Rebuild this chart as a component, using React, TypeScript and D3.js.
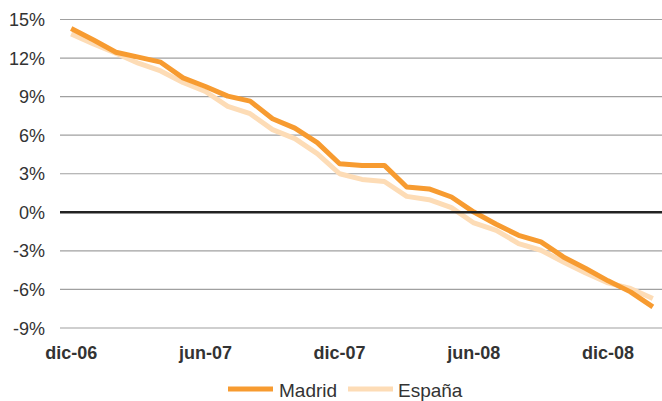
import React from "react";
import * as d3 from "d3";

const months = [
  "dic-06","ene-07","feb-07","mar-07","abr-07","may-07","jun-07","jul-07","ago-07","sep-07","oct-07","nov-07",
  "dic-07","ene-08","feb-08","mar-08","abr-08","may-08","jun-08","jul-08","ago-08","sep-08","oct-08","nov-08",
  "dic-08","ene-09","feb-09",
];
const tickLabels = ["dic-06", "jun-07", "dic-07", "jun-08", "dic-08"];
const madrid = [
  14.3, 13.4, 12.45, 12.07, 11.68, 10.46, 9.79, 9.04, 8.65, 7.28, 6.55, 5.42,
  3.78, 3.65, 3.65, 1.97, 1.82, 1.19, 0.02, -0.93, -1.79, -2.3, -3.47, -4.37,
  -5.33, -6.19, -7.36,
];
const espana = [
  13.88, 13.1, 12.38, 11.6, 11.0, 10.1, 9.4, 8.24, 7.67, 6.43, 5.73, 4.56,
  3.0, 2.56, 2.4, 1.24, 0.98, 0.36, -0.83, -1.4, -2.43, -2.95, -3.86, -4.72,
  -5.49, -5.93, -6.71,
];
const yTicks = [15, 12, 9, 6, 3, 0, -3, -6, -9];

const W = 662;
const H = 401;
const left = 60;
const right = 664;

export default function App() {
  const x = d3.scaleBand<string>().domain(months).range([left, right]).padding(0);
  const cx = (m: string) => (x(m) as number) + x.bandwidth() / 2;
  const y = d3.scaleLinear().domain([-9, 15]).range([328, 19.5]);
  const line = d3
    .line<number>()
    .x((_, i) => cx(months[i]))
    .y((d) => y(d));
  const font = "'Liberation Sans', Arial, Helvetica, sans-serif";
  return (
    <svg
      width={W}
      height={H}
      style={{ position: "absolute", left: 0, top: 0, background: "#fff" }}
      fontFamily={font}
    >
      {yTicks.map((t) =>
        t === 0 ? null : (
          <line key={t} x1={left} x2={W} y1={y(t)} y2={y(t)} stroke="#a0a0a0" strokeWidth={1.2} />
        )
      )}
      {yTicks.map((t) => (
        <text key={"l" + t} x={45} y={y(t) + 6.5} textAnchor="end" fontSize={18} fill="#333">
          {t}%
        </text>
      ))}
      {tickLabels.map((t) => (
        <text key={t} x={cx(t)} y={359} textAnchor="middle" fontSize={18} fontWeight="bold" fill="#333">
          {t}
        </text>
      ))}
      <path d={line(espana) || ""} fill="none" stroke="#fddcb6" strokeWidth={5} strokeLinejoin="round" />
      <path d={line(madrid) || ""} fill="none" stroke="#f79b30" strokeWidth={5} strokeLinejoin="round" />
      <line x1={left} x2={W} y1={y(0)} y2={y(0)} stroke="#222" strokeWidth={2.5} />
      <line x1={228} x2={273} y1={389} y2={389} stroke="#f79b30" strokeWidth={5} />
      <text x={279} y={396.5} fontSize={19} fill="#333">Madrid</text>
      <line x1={348} x2={393} y1={389} y2={389} stroke="#fddcb6" strokeWidth={5} />
      <text x={398} y={396.5} fontSize={19} fill="#333">España</text>
    </svg>
  );
}
